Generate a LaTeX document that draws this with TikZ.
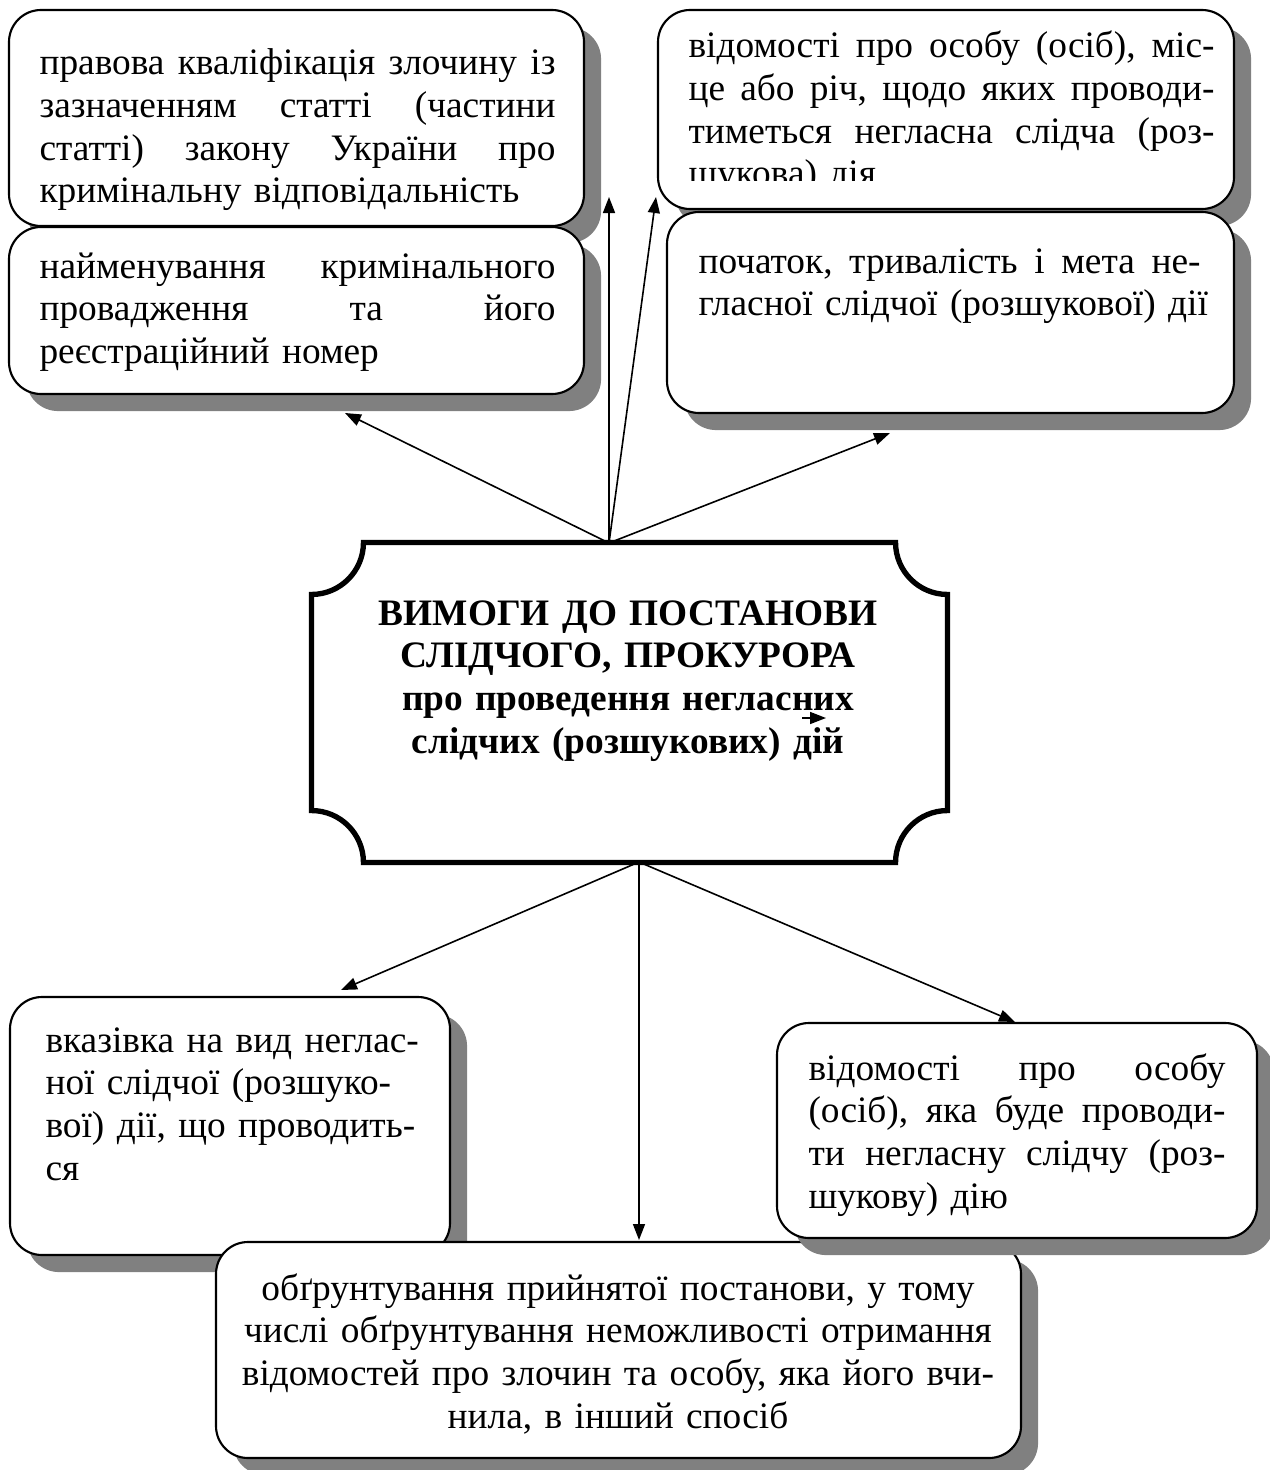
\documentclass[tikz,border=0pt]{standalone}
\usepackage{fontspec}
\setmainfont{Liberation Serif}
\usetikzlibrary{arrows.meta,positioning,calc,shadows}
\definecolor{shade}{HTML}{808080}
\newcommand{\px}{0.375pt}
\newlength{\pxunit}
\setlength{\pxunit}{0.375pt}
\newcommand{\fillline}[2]{{\frenchspacing\spaceskip=0.25em plus 1fil\makebox[#1\pxunit][s]{#2}}\\}

\begin{document}
\begin{tikzpicture}[x=0.375pt,y=-0.375pt,
    card/.style={draw,line width=0.8pt,rounded corners=12pt,fill=white,
      inner sep=0pt,outer sep=0pt,anchor=north west,
      drop shadow={shadow xshift=6.4pt,shadow yshift=-6.4pt,fill=shade,opacity=1}},
    body/.style={anchor=base west,inner sep=0pt,align=left,
      font=\fontsize{14pt}{16pt}\selectfont},
    linkarrow/.style={-{Triangle[length=6pt,width=4.5pt]},line width=0.6pt}]
  \useasboundingbox (0,0) rectangle (1269,1470);
  % upper left pair
  \node[card,minimum width=575*\px,minimum height=216*\px] (qual) at (9,10) {};
  \node[body,text width=540*\px] (qualtext) at (39,75)
    {\fillline{516}{правова кваліфікація злочину із}\fillline{516}{зазначенням статті (частини}\fillline{516}{статті) закону України про}кримінальну відповідальність};
  \node[card,minimum width=575*\px,minimum height=167*\px] (numb) at (9,227) {};
  \node[body,text width=540*\px] (numbtext) at (39,278)
    {\fillline{516}{найменування кримінального}\fillline{516}{провадження та його}реєстраційний номер};
  % upper right pair
  \node[card,minimum width=576*\px,minimum height=199*\px] (place) at (658,10) {};
  \begin{scope}
    \clip (658,10) rectangle (1234,181);
    \node[body,text width=540*\px] (placetext) at (688,58)
      {\fillline{526}{відомості про особу (осіб), міс-}\fillline{526}{це або річ, щодо яких проводи-}\fillline{526}{тиметься негласна слідча (роз-}шукова) дія};
  \end{scope}
  \node[card,minimum width=567*\px,minimum height=201*\px] (term) at (667,212) {};
  \node[body,text width=540*\px] (termtext) at (698,273)
    {\fillline{502}{початок, тривалість і мета не-}гласної слідчої (розшукової) дії};
  % lower row
  \node[card,minimum width=440*\px,minimum height=258*\px] (kind) at (10,997) {};
  \node[body,text width=390*\px] (kindtext) at (45,1052)
    {вказівка на вид неглас-\\ної слідчої (розшуко-\\вої) дії, що проводить-\\ся};
  \node[card,minimum width=805*\px,minimum height=216*\px] (grounds) at (216,1242) {};
  \node[body,anchor=base,align=center,text width=780*\px] (groundstext) at (618,1300)
    {обґрунтування прийнятої постанови, у тому\\числі обґрунтування неможливості отримання\\відомостей про злочин та особу, яка його вчи-\\нила, в інший спосіб};
  \node[card,minimum width=480*\px,minimum height=215*\px] (exec) at (777,1023) {};
  \node[body,text width=440*\px] (exectext) at (808,1080)
    {\fillline{417}{відомості про особу}\fillline{417}{(осіб), яка буде проводи-}\fillline{417}{ти негласну слідчу (роз-}шукову) дію};
  % central plaque
  \node[minimum width=635*\px,minimum height=319*\px,inner sep=0pt] (req) at (629.5,702.5) {};
  \draw[line width=2pt] ($(req.north west)+(19.5pt,0)$) -- ($(req.north east)+(-19.5pt,0)$)
    arc[start angle=180,end angle=270,radius=19.5pt] -- ($(req.south east)+(0,19.5pt)$)
    arc[start angle=90,end angle=180,radius=19.5pt] -- ($(req.south west)+(19.5pt,0)$)
    arc[start angle=0,end angle=90,radius=19.5pt] -- ($(req.north west)+(0,-19.5pt)$)
    arc[start angle=270,end angle=360,radius=19.5pt] -- cycle;
  \node[body,anchor=base,align=center,text width=600*\px,font=\fontsize{14pt}{16pt}\selectfont\bfseries] (reqtext) at (628,625)
    {ВИМОГИ ДО ПОСТАНОВИ\\СЛІДЧОГО, ПРОКУРОРА\\про проведення негласних\\слідчих (розшукових) дій};
  % arrows
  \coordinate (hubup) at (609,543);
  \coordinate (hubdown) at (639,862);
  \coordinate (numbtip) at (345,413);
  \coordinate (qualtip) at (609,197);
  \coordinate (placetip) at (656,197);
  \coordinate (termtip) at (890,433);
  \coordinate (kindtip) at (341,990);
  \coordinate (groundstip) at (639,1240);
  \coordinate (exectip) at (1015,1022);
  \coordinate (straytail) at (802,718);
  \coordinate (straytip) at (826,718);
  \draw[linkarrow] (hubup) -- (numbtip);
  \draw[linkarrow] (hubup) -- (qualtip);
  \draw[linkarrow] (hubup) -- (placetip);
  \draw[linkarrow] (hubup) -- (termtip);
  \draw[linkarrow] (hubdown) -- (kindtip);
  \draw[linkarrow] (hubdown) -- (groundstip);
  \draw[linkarrow] (hubdown) -- (exectip);
  \draw[linkarrow] (straytail) -- (straytip);
\end{tikzpicture}
\end{document}
